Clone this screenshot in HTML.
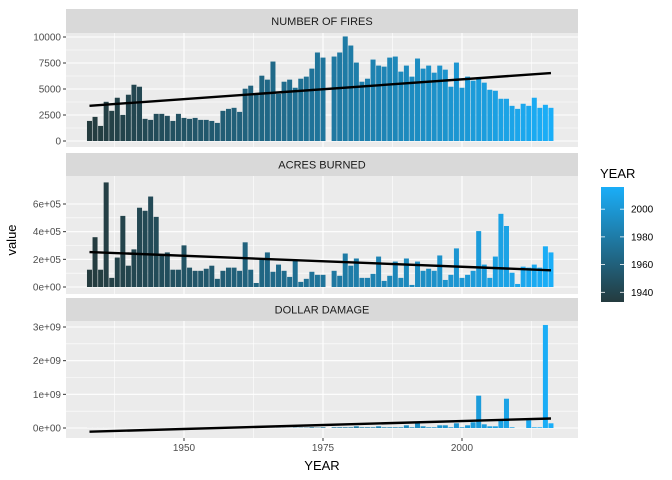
<!DOCTYPE html>
<html><head><meta charset="utf-8"><style>
body{margin:0;background:#fff;}
svg{display:block;font-family:"Liberation Sans",Arial,sans-serif;}
</style></head><body>
<svg id="chart" width="672" height="480"></svg>
<script>
const years = [];
for (let y = 1933; y <= 2016; y++) years.push(y);
const fires = [1930,2320,1450,3770,2900,4160,2510,4450,5410,5220,2130,2030,2610,2610,2420,1930,2610,2220,2130,2220,2030,2030,1930,1740,2900,3090,3190,2800,5030,5320,4450,6280,5900,7640,4540,5700,5900,5120,5990,6190,6960,8510,8020,null,8120,8510,10050,9180,7540,5700,5990,7830,7250,7150,8020,8120,6670,7250,6190,7930,6960,7250,6570,7250,6860,5220,7540,5120,6190,5800,6090,5610,4930,4830,4060,4060,3380,3090,3580,3380,4160,3190,3480,3190];
const acres = [125e3,360e3,125e3,756e3,66e3,213e3,514e3,154e3,272e3,573e3,551e3,654e3,507e3,240e3,250e3,125e3,125e3,301e3,140e3,117e3,117e3,132e3,154e3,59e3,117e3,140e3,140e3,117e3,323e3,125e3,29e3,206e3,250e3,110e3,162e3,117e3,73e3,198e3,37e3,59e3,110e3,88e3,88e3,null,117e3,81e3,242e3,154e3,206e3,66e3,66e3,95e3,220e3,44e3,81e3,184e3,66e3,206e3,15e3,184e3,117e3,132e3,117e3,228e3,51e3,88e3,279e3,66e3,88e3,117e3,404e3,162e3,66e3,220e3,529e3,441e3,103e3,22e3,147e3,140e3,162e3,140e3,294e3,250e3];
const damage = [1e6,1e6,1e6,1e6,1e6,1e6,1e6,1e6,1e6,1e6,1e6,1e6,1e6,1e6,1e6,1e6,1e6,1e6,1e6,1e6,1e6,1e6,1e6,1e6,1e6,1e6,1e6,1e6,2e6,2e6,2e6,2e6,2e6,2e6,3e6,3e6,3e6,1e7,1e7,1e7,2e7,1e7,2e7,null,2e7,2e7,2e7,2e7,5e7,2e7,2e7,2e7,5e7,2e7,2e7,2e7,2e7,8e7,2e7,1.4e8,5e7,2e7,2e7,8e7,8e7,2e7,1.4e8,2e7,8e7,1.7e8,9.6e8,1.1e8,5e7,5e7,2.3e8,8.7e8,2e7,1e6,1e6,2.3e8,2e7,2e7,3.06e9,1.4e8];
const fireTicks = [0,2500,5000,7500,10000];
const fireTickLabels = ["0","2500","5000","7500","10000"];
const acreTicks = [0,2e5,4e5,6e5];
const acreTickLabels = ["0e+00","2e+05","4e+05","6e+05"];
const dmgTicks = [0,1e9,2e9,3e9];
const dmgTickLabels = ["0e+00","1e+09","2e+09","3e+09"];
const xTicks = [1950,1975,2000];
const xMinor = [1937.5,1962.5,1987.5,2012.5];
const legendTicks = [1940,1960,1980,2000];

const NS = "http://www.w3.org/2000/svg";
const svg = document.getElementById('chart');
function mk(tag, attrs, parent) {
  const e = document.createElementNS(NS, tag);
  for (const k in attrs) e.setAttribute(k, attrs[k]);
  (parent || svg).appendChild(e);
  return e;
}
const PX0 = 66, PX1 = 578;
const xScale = y => 184 + (y - 1950) * 5.56;
function color(y) {
  const t = Math.max(0, Math.min(1, (y - 1933) / (2016 - 1933)));
  const a = [36, 59, 62], b = [26, 174, 248];
  return `rgb(${a.map((v, i) => Math.round(v + (b[i] - v) * t)).join(',')})`;
}
function lm(xs, ys) {
  let n = 0, sx = 0, sy = 0, sxx = 0, sxy = 0;
  xs.forEach((x, i) => { if (ys[i] == null) return; n++; sx += x; sy += ys[i]; sxx += x * x; sxy += x * ys[i]; });
  const b = (n * sxy - sx * sy) / (n * sxx - sx * sx);
  return { a: (sy - b * sx) / n, b };
}
const panels = [
  { title: "NUMBER OF FIRES", key: "fires", vals: fires, ticks: fireTicks, labels: fireTickLabels, top: 33, bot: 147, stripTop: 9, y0: 141, yRef: 37, vRef: 10000 },
  { title: "ACRES BURNED", key: "acres", vals: acres, ticks: acreTicks, labels: acreTickLabels, top: 176, bot: 294, stripTop: 153, y0: 287, yRef: 204, vRef: 6e5 },
  { title: "DOLLAR DAMAGE", key: "damage", vals: damage, ticks: dmgTicks, labels: dmgTickLabels, top: 321, bot: 438, stripTop: 298, y0: 428, yRef: 327, vRef: 3e9 }
];
panels.forEach(p => {
  const g = mk('g', {});
  
  
  const ys = v => p.y0 - (v / p.vRef) * (p.y0 - p.yRef);
  const st = mk('rect', { x: PX0, y: p.stripTop, width: PX1 - PX0, height: p.top - p.stripTop, fill: '#d9d9d9' }, g);
  
  
  const stt = mk('text', { x: (PX0 + PX1) / 2, y: (p.stripTop + p.top) / 2 + 4, 'text-anchor': 'middle', 'font-size': 11, fill: '#1a1a1a' }, g);
  stt.textContent = p.title;
  
  
  const bg = mk('rect', { x: PX0, y: p.top, width: PX1 - PX0, height: p.bot - p.top, fill: '#ebebeb' }, g);
  
  
  // minor y grid
  for (let i = 0; i < p.ticks.length - 1; i++) {
    const yy = ys((p.ticks[i] + p.ticks[i + 1]) / 2);
    mk('line', { x1: PX0, x2: PX1, y1: yy, y2: yy, stroke: '#fff', 'stroke-width': 0.6 }, g);
  }
  xMinor.forEach(x => mk('line', { x1: xScale(x), x2: xScale(x), y1: p.top, y2: p.bot, stroke: '#fff', 'stroke-width': 0.6 }, g));
  p.ticks.forEach((t, i) => {
    const yy = ys(t);
    mk('line', { x1: PX0, x2: PX1, y1: yy, y2: yy, stroke: '#fff', 'stroke-width': 1.1 }, g);
    mk('line', { x1: PX0 - 3, x2: PX0, y1: yy, y2: yy, stroke: '#333', 'stroke-width': 1 }, g);
    const tl = mk('text', { x: PX0 - 5, y: yy + 3.5, 'text-anchor': 'end', 'font-size': 10, fill: '#4d4d4d' }, g);
    tl.textContent = p.labels[i];
    
    
  });
  xTicks.forEach(x => mk('line', { x1: xScale(x), x2: xScale(x), y1: p.top, y2: p.bot, stroke: '#fff', 'stroke-width': 1.1 }, g));
  years.forEach((yr, i) => {
    const v = p.vals[i];
    if (v == null) return;
    const yTop = ys(v);
    const r = mk('rect', { x: xScale(yr) - 2.5, y: Math.min(yTop, p.y0), width: 5, height: Math.abs(p.y0 - yTop), fill: color(yr) }, g);
    
    
  });
  const f = lm(years, p.vals);
  const ln = mk('line', { x1: xScale(1933), x2: xScale(2016), y1: ys(f.a + f.b * 1933), y2: ys(f.a + f.b * 2016), stroke: '#000', 'stroke-width': 2.4 }, g);
  
  
});
xTicks.forEach(x => {
  mk('line', { x1: xScale(x), x2: xScale(x), y1: 438, y2: 441, stroke: '#333' });
  const t = mk('text', { x: xScale(x), y: 451, 'text-anchor': 'middle', 'font-size': 10, fill: '#4d4d4d' });
  t.textContent = x;
  
  
});
const xt = mk('text', { x: 322, y: 470, 'text-anchor': 'middle', 'font-size': 13, fill: '#000' });
xt.textContent = 'YEAR';


const yt = mk('text', { x: 16, y: 240, 'text-anchor': 'middle', 'font-size': 13, fill: '#000', transform: 'rotate(-90 16 240)' });
yt.textContent = 'value';


// legend
const defs = mk('defs', {});
const grad = mk('linearGradient', { id: 'lg', x1: 0, y1: 1, x2: 0, y2: 0 }, defs);
mk('stop', { offset: '0', 'stop-color': color(1933) }, grad);
mk('stop', { offset: '1', 'stop-color': color(2016) }, grad);
const lt = mk('text', { x: 600, y: 178, 'font-size': 13, fill: '#000' });
lt.textContent = 'YEAR';


const LB0 = 302, LB1 = 187;
const lyScale = y => LB0 - (y - 1933) / (2016 - 1933) * (LB0 - LB1);
const cb = mk('rect', { x: 601, y: LB1, width: 23, height: LB0 - LB1, fill: 'url(#lg)' });


legendTicks.forEach(t => {
  const yy = lyScale(t);
  mk('line', { x1: 601, x2: 605, y1: yy, y2: yy, stroke: '#fff', 'stroke-width': 0.8 });
  mk('line', { x1: 620, x2: 624, y1: yy, y2: yy, stroke: '#fff', 'stroke-width': 0.8 });
  const tl = mk('text', { x: 631, y: yy + 3.5, 'font-size': 10, fill: '#000' });
  tl.textContent = t;
  
  
});
</script>
</body></html>
